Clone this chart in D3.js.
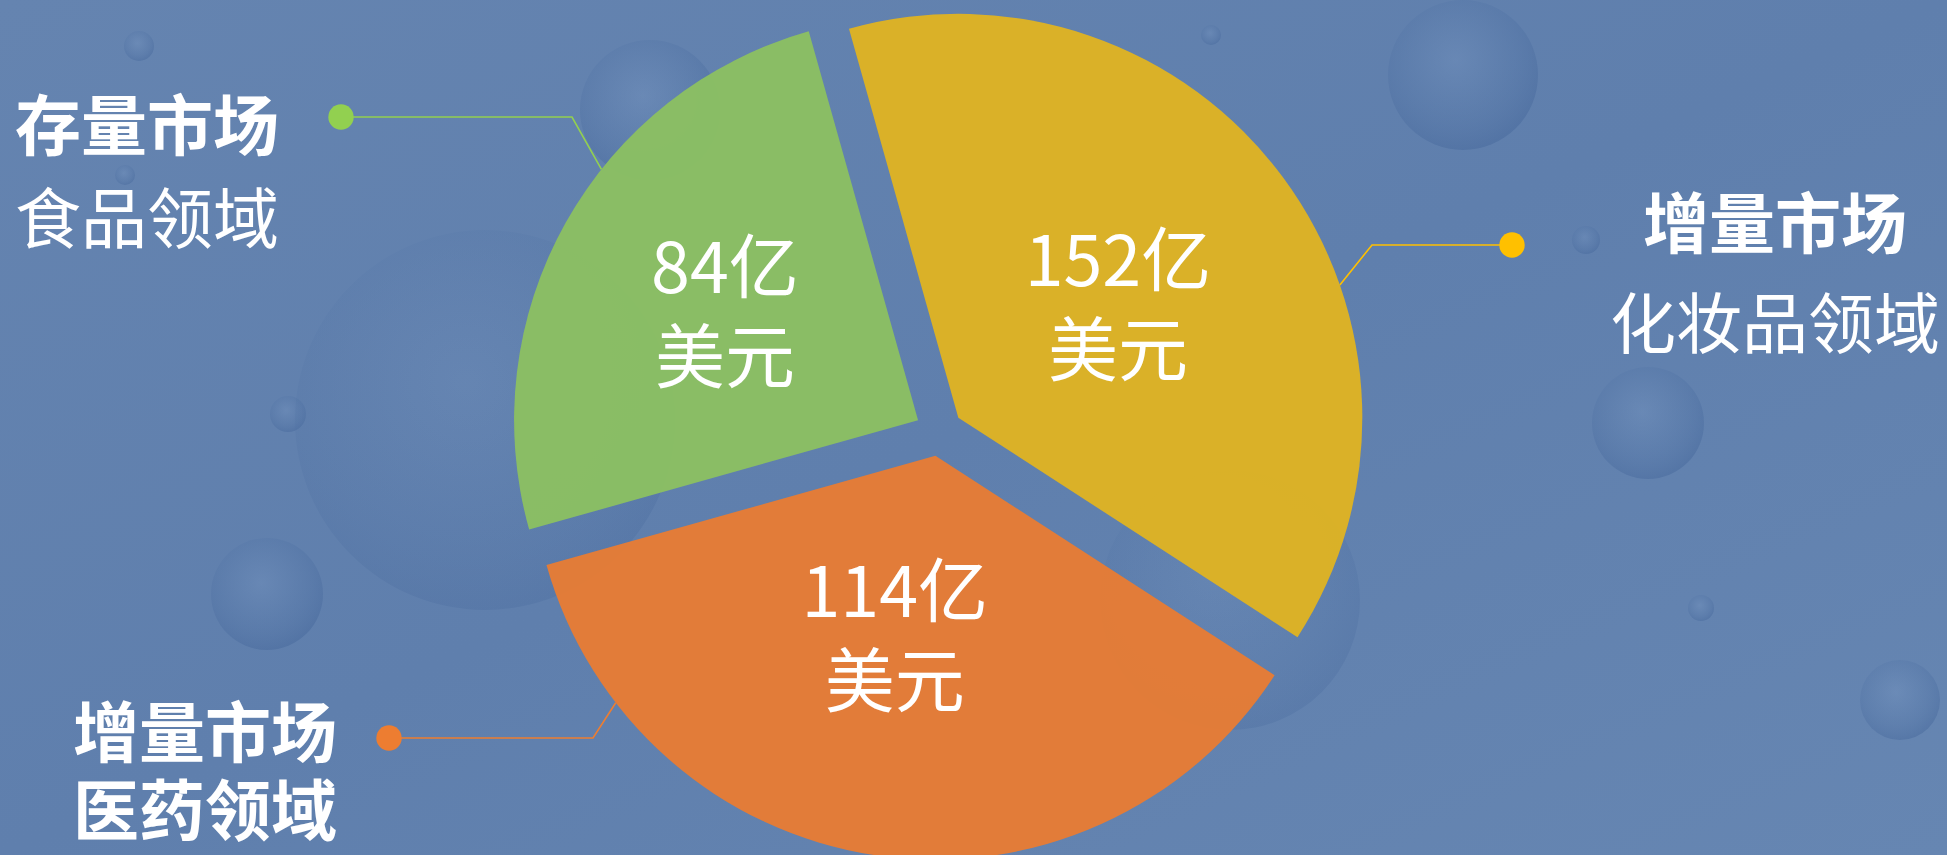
<!DOCTYPE html>
<html>
<head>
<meta charset="utf-8">
<script src="https://cdn.jsdelivr.net/npm/d3@7"></script>
<style>
  body { margin: 0; overflow: hidden; background: #6483af; }
  text { font-family: 'Noto Sans CJK SC', 'Noto Sans', sans-serif; fill: #fff; }
</style>
</head>
<body>
<div id="chartContainer"></div>
<script>
// Data
const markets = ['增量市场', '增量市场', '存量市场'];
const fields = ['化妆品领域', '医药领域', '食品领域'];
const amounts = [152, 114, 84];          // label values, 亿美元
const shares = [38.5, 36.5, 25];         // slice sizes as drawn
const unit = '亿';
const currency = '美元';

// Styles / layout
const width = 1947;
const height = 855;
const colors = ['#dfb322', '#e77c34', '#8bc062'];
const dotColors = ['#ffc000', '#ed7d31', '#92d050'];
const radius = 404;
const explode = 24;
const center = { x: 939, y: 432 };
const startDeg = -15.7;
// label placement inside each slice: radius ratio + angle shift (deg)
const labelPos = [
  { r: 0.48, shift: 1.8 },
  { r: 0.465, shift: 3.9 },
  { r: 0.545, shift: -0.6 }
];
// callout: anchor angle on the arc (deg), elbow x, dot position, text block
const callouts = [
  { anchor: 70.8, elbowX: 1372, dotX: 1512, dotY: 245,
    textX: 1775, textY: [248, 348], anchorText: 'middle', weights: [700, 400] },
  { anchor: 232.3, elbowX: 593, dotX: 389, dotY: 738,
    textX: 205, textY: [757, 835], anchorText: 'middle', weights: [700, 700] },
  { anchor: 308.4, elbowX: 572, dotX: 341, dotY: 117,
    textX: 15, textY: [150, 243], anchorText: 'start', weights: [700, 400] }
];
// background bubbles (decoration only)
const bubbles = [
  [139, 46, 15], [125, 175, 10], [288, 414, 18], [267, 594, 56], [485, 420, 190],
  [650, 110, 70], [1211, 35, 10], [1463, 75, 75], [1586, 240, 14],
  [1648, 423, 56], [1701, 608, 13], [1230, 600, 130], [1900, 700, 40]
];

const rad = deg => deg * Math.PI / 180;

const svg = d3
  .select('#chartContainer')
  .append('svg')
  .attr('width', width)
  .attr('height', height)
  .attr('viewBox', `0 0 ${width} ${height}`);

const defs = svg.append('defs');
const bg = defs.append('linearGradient')
  .attr('id', 'bg')
  .attr('x1', '0%').attr('y1', '0%')
  .attr('x2', '100%').attr('y2', '100%');
bg.append('stop').attr('offset', '0%').attr('stop-color', '#6584b0');
bg.append('stop').attr('offset', '50%').attr('stop-color', '#5f7fad');
bg.append('stop').attr('offset', '100%').attr('stop-color', '#6686b2');

const bub = defs.append('radialGradient')
  .attr('id', 'bubble')
  .attr('cx', '45%').attr('cy', '40%').attr('r', '60%');
bub.append('stop').attr('offset', '0%').attr('stop-color', '#7c9bc6').attr('stop-opacity', 0.35);
bub.append('stop').attr('offset', '65%').attr('stop-color', '#5274a6').attr('stop-opacity', 0.35);
bub.append('stop').attr('offset', '100%').attr('stop-color', '#44669a').attr('stop-opacity', 0.55);

svg.append('rect')
  .attr('width', width)
  .attr('height', height)
  .attr('fill', 'url(#bg)');

svg.append('g')
  .selectAll('circle')
  .data(bubbles)
  .enter()
  .append('circle')
  .attr('cx', d => d[0])
  .attr('cy', d => d[1])
  .attr('r', d => d[2])
  .attr('fill', 'url(#bubble)')
  .attr('opacity', d => (d[2] > 100 ? 0.45 : 0.8));

// Pie
const data = amounts.map((a, i) => ({
  amount: a, share: shares[i], market: markets[i], field: fields[i], i
}));

const pie = d3.pie()
  .value(d => d.share)
  .sort(null)
  .startAngle(rad(startDeg))
  .endAngle(rad(startDeg) + 2 * Math.PI);

const arc = d3.arc().innerRadius(0).outerRadius(radius);

const arcs = pie(data);
// apex of each exploded slice
arcs.forEach(d => {
  const mid = (d.startAngle + d.endAngle) / 2;
  const [dx, dy] = d3.pointRadial(mid, explode);
  d.apex = [center.x + dx, center.y + dy];
  const lp = labelPos[d.data.i];
  d.label = d3.pointRadial(mid + rad(lp.shift), radius * lp.r);
});

// Callout lines (under slices so they end at the edge)
const lines = svg.append('g').attr('class', 'callouts');
arcs.forEach(d => {
  const c = callouts[d.data.i];
  const [px, py] = d3.pointRadial(rad(c.anchor), radius);
  const pts = [
    [d.apex[0] + px, d.apex[1] + py],
    [c.elbowX, c.dotY],
    [c.dotX, c.dotY]
  ];
  lines.append('path')
    .attr('d', d3.line()(pts))
    .attr('fill', 'none')
    .attr('stroke', dotColors[d.data.i])
    .attr('stroke-width', 1.6);
  lines.append('circle')
    .attr('cx', c.dotX)
    .attr('cy', c.dotY)
    .attr('r', 12.7)
    .attr('fill', dotColors[d.data.i]);
});

const slices = svg.selectAll('.slice')
  .data(arcs)
  .enter()
  .append('g')
  .attr('class', 'slice')
  .attr('transform', d => `translate(${d.apex})`);

slices.append('path')
  .attr('d', arc)
  .attr('fill', d => colors[d.data.i])
  .attr('fill-opacity', 0.96);

const labels = slices.append('text')
  .attr('transform', d => `translate(${d.label})`)
  .attr('text-anchor', 'middle')
  .style('font-size', '70px');
labels.append('tspan')
  .attr('x', 0)
  .attr('y', -22)
  .text(d => `${d.data.amount}${unit}`);
labels.append('tspan')
  .attr('x', 0)
  .attr('y', 68)
  .text(currency);

// Side titles
const titles = svg.append('g').attr('class', 'titles');
data.forEach(d => {
  const c = callouts[d.i];
  [d.market, d.field].forEach((t, k) => {
    titles.append('text')
      .attr('x', c.textX)
      .attr('y', c.textY[k])
      .attr('text-anchor', c.anchorText)
      .style('font-size', '66px')
      .style('font-weight', c.weights[k])
      .text(t);
  });
});
</script>
</body>
</html>
